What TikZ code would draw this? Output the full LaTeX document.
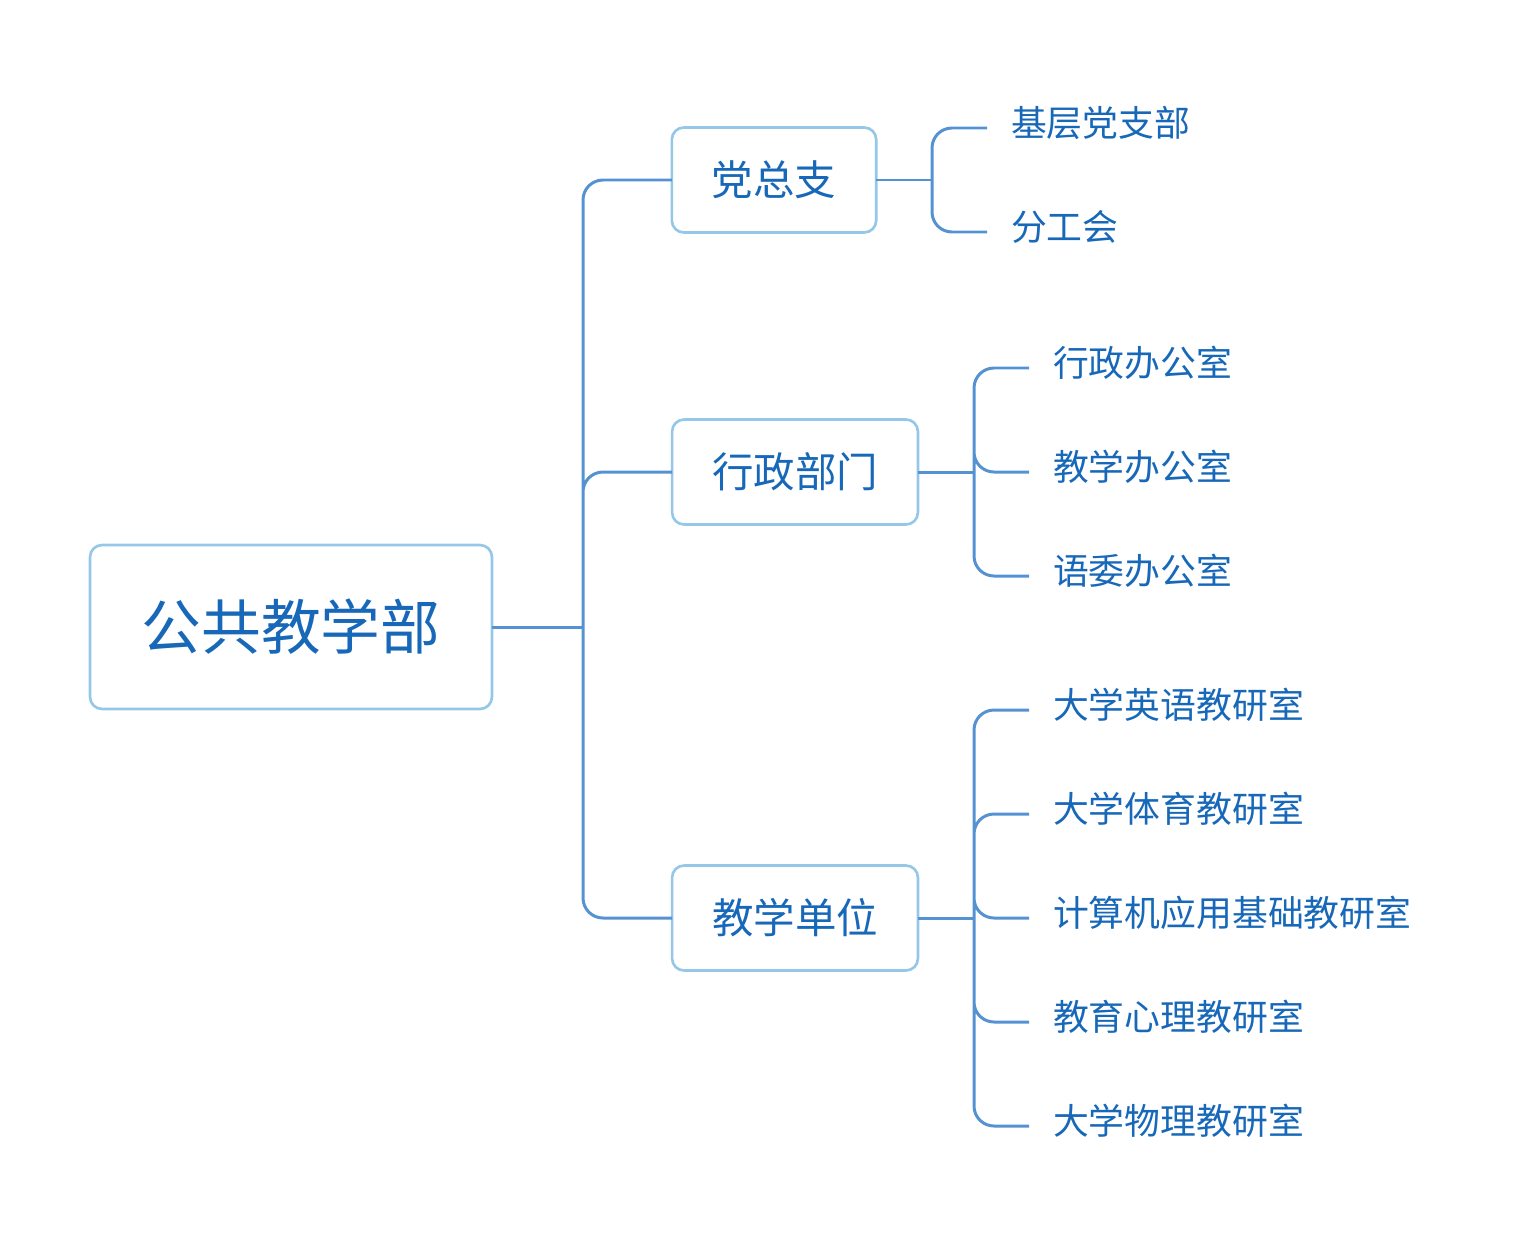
\documentclass[tikz,border=0pt]{standalone}
\usepackage{fontspec}
\setmainfont{Noto Sans CJK SC}
\usepackage{tikz}
\usepackage{xcolor}
\definecolor{txtblue}{HTML}{1768B8}
\definecolor{boxblue}{HTML}{95C8E8}
\definecolor{lineblue}{HTML}{5592D2}

\begin{document}
\begin{tikzpicture}[x=0.02cm, y=-0.02cm, link/.style={draw=lineblue, line width=1.7pt, rounded corners=0.4cm}, topic/.style={rectangle, rounded corners=0.24cm, draw=boxblue, fill=white, text=txtblue, line width=1.5pt, minimum height=2.1cm, inner xsep=0.8cm, outer sep=0pt, font=\fontsize{23.6pt}{28pt}\selectfont}, root/.style={topic, minimum width=8.04cm, minimum height=3.28cm, font=\fontsize{34pt}{40pt}\selectfont}, leaf/.style={anchor=west, text=txtblue, inner xsep=0.48cm, inner ysep=0pt, outer sep=0pt, text height=0.63cm, text depth=0.29cm, font=\fontsize{20.4pt}{24pt}\selectfont}]
        \useasboundingbox (0,0) rectangle (1530,1254);

        \node[root] (root) at (291,627) {公共教学部};
        \node[topic] (party) at (774,180) {党总支};
        \node[topic] (admin) at (795,472) {行政部门};
        \node[topic] (teach) at (795,918) {教学单位};

        \node[leaf] (p1) at (987,128) {基层党支部};
        \node[leaf] (p2) at (987,232) {分工会};

        \node[leaf] (a1) at (1029,368) {行政办公室};
        \node[leaf] (a2) at (1029,472) {教学办公室};
        \node[leaf] (a3) at (1029,576) {语委办公室};

        \node[leaf] (t1) at (1029,710) {大学英语教研室};
        \node[leaf] (t2) at (1029,814) {大学体育教研室};
        \node[leaf] (t3) at (1029,918) {计算机应用基础教研室};
        \node[leaf] (t4) at (1029,1022) {教育心理教研室};
        \node[leaf] (t5) at (1029,1126) {大学物理教研室};

        \coordinate (hub) at (583,627);
        \coordinate (phub) at (932,180);
        \coordinate (ahub) at (974,472);
        \coordinate (thub) at (974,918);

        \draw[link] (root.east) -- (hub);
        \draw[link] (hub) |- (party.west)
            (hub) |- (admin.west)
            (hub) |- (teach.west);

        \draw[link] (party.east) -- (phub);
        \draw[link] (phub) |- (p1.west)
            (phub) |- (p2.west);

        \draw[link] (admin.east) -- (ahub);
        \draw[link] (ahub) |- (a1.west)
            (ahub) |- (a2.west)
            (ahub) |- (a3.west);

        \draw[link] (teach.east) -- (thub);
        \draw[link] (thub) |- (t1.west)
            (thub) |- (t2.west)
            (thub) |- (t3.west)
            (thub) |- (t4.west)
            (thub) |- (t5.west);
    \end{tikzpicture}
\end{document}
